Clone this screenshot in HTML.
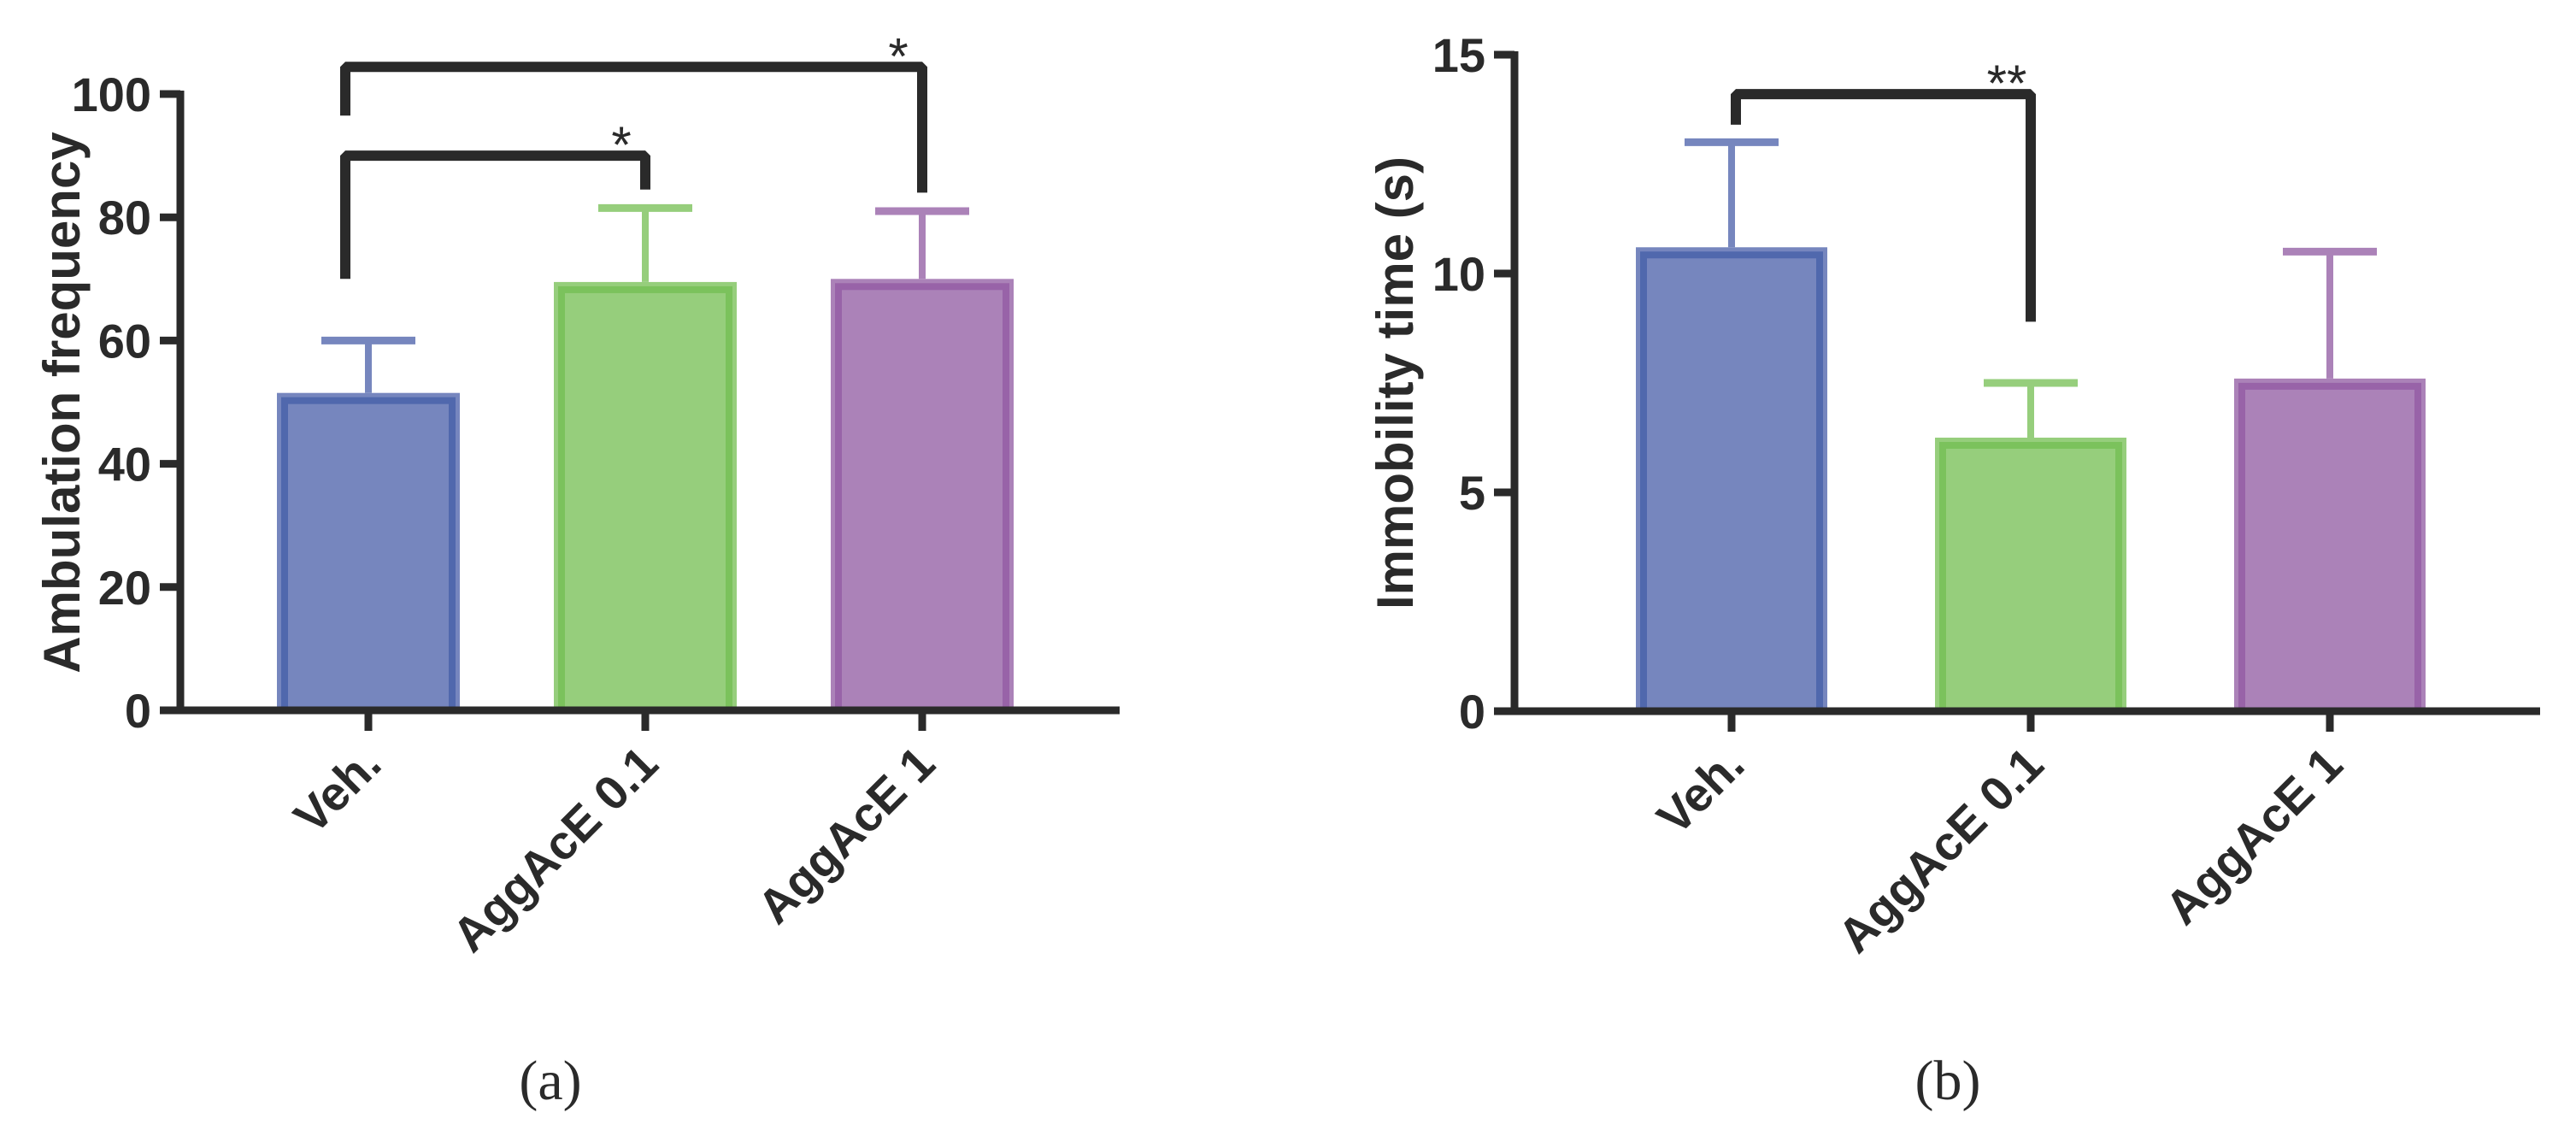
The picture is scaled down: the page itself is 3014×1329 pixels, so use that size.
<!DOCTYPE html>
<html><head><meta charset="utf-8"><style>
html,body{margin:0;padding:0;background:#fff;}
svg{display:block;}
text{font-family:"Liberation Sans",sans-serif;font-weight:bold;fill:#2a2a2a;}
</style></head><body>
<svg id="chart" width="3014" height="1329" viewBox="0 0 3014 1329" xmlns="http://www.w3.org/2000/svg">
<text x="644" y="1286" font-size="66" text-anchor="middle" style="font-family:'Liberation Serif',serif;font-weight:normal">(a)</text>
<text x="2279" y="1286" font-size="66" text-anchor="middle" style="font-family:'Liberation Serif',serif;font-weight:normal">(b)</text>
</svg>
<script>
const categories = ["Veh.", "AggAcE 0.1", "AggAcE 1"];
const ambulationMeans = [51.5, 69.5, 70];
const ambulationErrTop = [60, 81.5, 81];
const ambulationTicks = [0, 20, 40, 60, 80, 100];
const immobilityMeans = [10.6, 6.25, 7.6];
const immobilityErrTop = [13, 7.5, 10.5];
const immobilityTicks = [0, 5, 10, 15];

const NS = "http://www.w3.org/2000/svg";
const svg = document.getElementById("chart");
const fills = ["#7686be", "#96ce7c", "#ab82b8"];
const borders = ["#5068ad", "#7bc25c", "#9863a8"];
const ink = "#2a2a2a";
function mk(tag, attrs, parent) {
  const e = document.createElementNS(NS, tag);
  for (const k in attrs) e.setAttribute(k, attrs[k]);
  (parent || svg).appendChild(e);
  return e;
}

function panel(cfg) {
  const g = mk("g", {});
  
  
  const y = v => cfg.y0 - (v - cfg.ymin) / (cfg.ymax - cfg.ymin) * (cfg.y0 - cfg.yTop);
  const x = i => cfg.x0 + i * cfg.step;
  cfg.means.forEach((m, i) => {
    const cx = x(i), w = cfg.barW;
    const r = mk("rect", {x: cx - w / 2, y: y(m), width: w, height: cfg.y0 - y(m), fill: fills[i]}, g);
    
    
    const b = mk("rect", {x: cx - w / 2 + 9, y: y(m) + 9, width: w - 18, height: cfg.y0 - y(m) - 9, fill: "none", stroke: borders[i], "stroke-width": 8}, g);
    
    
    const el = mk("line", {x1: cx, x2: cx, y1: y(m), y2: y(cfg.errTop[i]), stroke: fills[i], "stroke-width": 8}, g);
    
    
    const cap = mk("line", {x1: cx - 55, x2: cx + 55, y1: y(cfg.errTop[i]), y2: y(cfg.errTop[i]), stroke: fills[i], "stroke-width": 9}, g);
    
    
  });
  const ya = mk("line", {x1: cfg.axX, x2: cfg.axX, y1: y(cfg.ymax) - 4, y2: cfg.y0 + 4, stroke: ink, "stroke-width": 9}, g);
  
  
  const xa = mk("line", {x1: cfg.axX - 24, x2: cfg.axEnd, y1: cfg.y0, y2: cfg.y0, stroke: ink, "stroke-width": 9}, g);
  
  
  cfg.ticks.forEach(t => {
    const tl = mk("line", {x1: cfg.axX - 24, x2: cfg.axX, y1: y(t), y2: y(t), stroke: ink, "stroke-width": 9}, g);
    
    
    const tx = mk("text", {x: cfg.axX - 34, y: y(t) + 20, "font-size": 56, "text-anchor": "end"}, g);
    tx.textContent = t;
    
    
  });
  categories.forEach((c, i) => {
    const cx = x(i);
    const tl = mk("line", {x1: cx, x2: cx, y1: cfg.y0, y2: cfg.y0 + 24, stroke: ink, "stroke-width": 9}, g);
    
    
    const tx = mk("text", {x: 0, y: 0, "font-size": 56, "text-anchor": "end", transform: `translate(${cx + 18},${cfg.y0 + 66}) rotate(-45)`}, g);
    tx.textContent = c;
    
    
  });
  const yt = mk("text", {x: 0, y: 0, "font-size": 60, "text-anchor": "middle", transform: `translate(${cfg.titleX},${cfg.titleY}) rotate(-90)`}, g);
  yt.textContent = cfg.title;
  
  
  cfg.brackets.forEach(br => {
    const xl = x(br.a) + br.dx, xr = x(br.b);
    const p = mk("path", {d: `M${xl},${y(br.l)} L${xl},${y(br.top)} L${xr},${y(br.top)} L${xr},${y(br.r)}`, fill: "none", stroke: ink, "stroke-width": 12, "stroke-linejoin": "bevel"}, g);
    
    
    const s = mk("text", {x: xr - 28, y: y(br.top) + 8, "font-size": 60, "text-anchor": "middle", style: "font-weight:normal"}, g);
    s.textContent = br.label;
    
    
  });
}

panel({name: "panel-a-chart", means: ambulationMeans, errTop: ambulationErrTop, ticks: ambulationTicks,
  ymin: 0, ymax: 100, y0: 831, yTop: 110, axX: 211, axEnd: 1310, x0: 431, step: 324, barW: 214,
  title: "Ambulation frequency", titleX: 93, titleY: 471,
  brackets: [{a: 0, b: 1, dx: -27, l: 70, top: 90, r: 84.5, label: "*"},
             {a: 0, b: 2, dx: -27, l: 96.5, top: 104.4, r: 84, label: "*"}]});
panel({name: "panel-b-chart", means: immobilityMeans, errTop: immobilityErrTop, ticks: immobilityTicks,
  ymin: 0, ymax: 15, y0: 832, yTop: 64, axX: 1772, axEnd: 2972, x0: 2026, step: 350, barW: 224,
  title: "Immobility time (s)", titleX: 1653, titleY: 448,
  brackets: [{a: 0, b: 1, dx: 5, l: 13.4, top: 14.1, r: 8.9, label: "**"}]});
</script>
</body></html>
